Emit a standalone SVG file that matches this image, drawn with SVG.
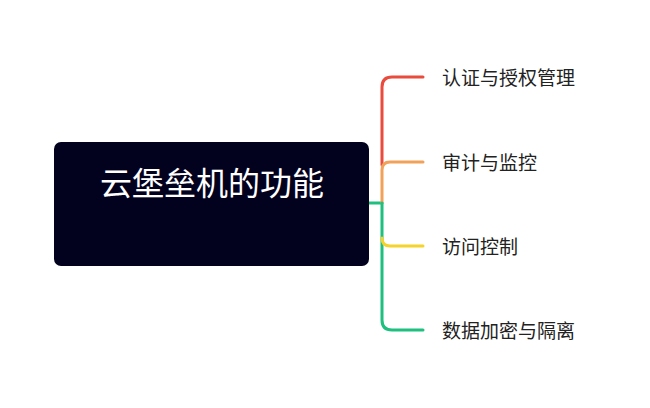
<svg xmlns="http://www.w3.org/2000/svg" width="650" height="408" viewBox="0 0 650 408">
<style>
.line{fill:none;stroke-width:3;stroke-linecap:round;stroke-linejoin:round}
.lbl{font-family:"Noto Sans CJK SC","Noto Sans",sans-serif;font-size:19px;fill:#222222}
.title{font-family:"Noto Sans CJK SC","Noto Sans",sans-serif;font-size:32px;fill:#ffffff;text-anchor:middle}
</style>
<rect width="650" height="408" fill="#ffffff"/>
<g id="connectors">
<path class="line" stroke="#1fbf7f" d="M369 203 H382"/>
<path class="line" stroke="#e94b3c" d="M382 165 V87 Q382 77 392 77 H423"/>
<path class="line" stroke="#f2a15a" d="M382 203 V170 Q382 162 390 162 H423"/>
<path class="line" stroke="#1fbf7f" d="M382 203 V320 Q382 330 392 330 H423"/>
<path class="line" stroke="#f5d32a" d="M382 238 Q382 246 390 246 H423"/>
</g>
<g id="root">
<rect x="54" y="142" width="315" height="124" rx="7" fill="#02021e"/>
<text class="title" x="212" y="195">云堡垒机的功能</text>
</g>
<g id="n1"><text class="lbl" x="442" y="85">认证与授权管理</text></g>
<g id="n2"><text class="lbl" x="442" y="170">审计与监控</text></g>
<g id="n3"><text class="lbl" x="442" y="254">访问控制</text></g>
<g id="n4"><text class="lbl" x="442" y="338">数据加密与隔离</text></g>
</svg>
